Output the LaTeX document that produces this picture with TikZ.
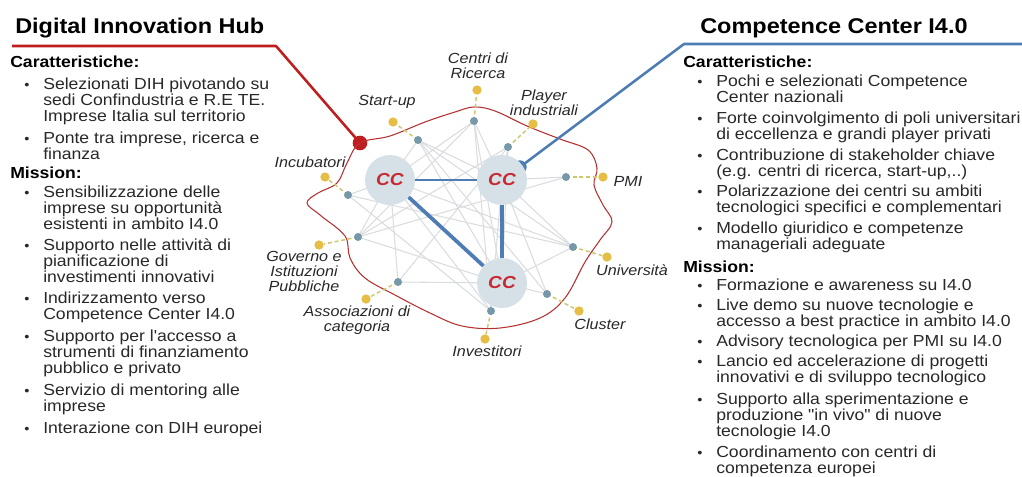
\documentclass[tikz,border=0pt]{standalone}
\usepackage{fontspec}
\setmainfont{Liberation Sans}[FakeStretch=1.1, Ligatures=TeXOff]
\definecolor{redline}{RGB}{192,30,30}
\definecolor{blueline}{RGB}{78,124,180}
\definecolor{ccfill}{RGB}{214,224,231}
\definecolor{cctext}{RGB}{200,40,50}
\definecolor{innerc}{RGB}{118,152,168}
\definecolor{outerc}{RGB}{230,190,70}
\definecolor{dashc}{RGB}{205,200,110}
\definecolor{edgec}{RGB}{218,220,223}
\definecolor{blobc}{RGB}{180,50,50}
\definecolor{txt}{RGB}{40,40,40}
\tikzset{
  x=0.75pt, y=-0.75pt,
  tline/.style={anchor=base west, inner sep=0, text=txt, font=\fontsize{12}{12}\selectfont},
  head/.style={anchor=base west, inner sep=0, text=black, font=\fontsize{12}{12}\selectfont\bfseries},
  title/.style={anchor=base west, inner sep=0, text=black, font=\fontsize{16}{16}\selectfont\bfseries},
  bul/.style={anchor=base, inner sep=0, text=txt, font=\fontsize{10}{10}\selectfont},
  lab/.style={inner sep=0, align=center, text=txt, font=\fontsize{11}{11.25}\selectfont\itshape},
  ccnode/.style={circle, fill=ccfill, minimum size=37.5pt, inner sep=0, text=cctext, font=\fontsize{13}{13}\selectfont\bfseries\itshape},
  innode/.style={circle, fill=innerc, minimum size=6pt, inner sep=0},
  outnode/.style={circle, fill=outerc, minimum size=7pt, inner sep=0},
  dashlink/.style={draw=dashc, line width=1.1pt, dash pattern=on 3pt off 2pt},
  gedge/.style={draw=edgec, line width=0.8pt},
  ccedge/.style={draw=blueline, line width=#1},
}
\newcommand\txtline[4]{\node[tline] (#1) at (#2,#3) {#4};}
\newcommand\bulline[4]{\node[tline] (#1) at (#2,#3) {#4};\node[bul] (#1b) at ({#2-16},#3) {•};}
\begin{document}
\begin{tikzpicture}
\useasboundingbox (0,0) rectangle (1022,476);
% ---------- titles and lines
\node[title] (t1) at (15,33) {Digital Innovation Hub};
\node[title] (t2) at (700,33) {Competence Center I4.0};
\coordinate (rc0) at (12,46);
\coordinate (rc1) at (276,46);
\coordinate (bc0) at (1022,44);
\coordinate (bc1) at (684,44);
\node[circle, fill=redline, minimum size=11pt, inner sep=0] (rd) at (360,143) {};
\node[circle, fill=blueline, minimum size=10pt, inner sep=0] (bd) at (520,167) {};
% ---------- blob
\draw[blobc, line width=0.8pt] plot[smooth cycle, tension=0.6] coordinates {
 (360,143) (390,136) (425,122) (455,112) (474,107) (495,111) (527,126) (560,139)
 (588,150) (597,168) (594,185) (603,205) (612,222) (600,240) (585,262) (565,298)
 (540,318) (500,328) (462,326) (430,313) (395,295) (365,278) (350,258) (345,236)
 (320,215) (307,203) (318,193) (337,183) (347,163)};
\draw[redline, line width=1.9pt, line join=round] (rc0) -- (rc1) -- (rd.center);
\draw[blueline, line width=1.9pt, line join=round] (bc0) -- (bc1) -- (bd.center);
% ---------- network nodes
\coordinate (c1) at (390,180);
\coordinate (c2) at (502,180);
\coordinate (c3) at (502,283);
\coordinate (su) at (418,140);
\coordinate (cr) at (474,121);
\coordinate (pi) at (508,147);
\coordinate (pmi) at (566,177);
\coordinate (inc) at (348,195);
\coordinate (gov) at (358,237);
\coordinate (ass) at (398,282);
\coordinate (inv) at (491,311);
\coordinate (clu) at (547,294);
\coordinate (uni) at (573,247);
% gray edges
\foreach \a/\b in {su/c1,su/c2,su/clu,su/uni,cr/c1,cr/c2,cr/c3,cr/gov,cr/inv,pi/c2,pi/c3,pi/ass,
  pmi/c2,pmi/gov,inc/c1,inc/uni,inc/inv,gov/c1,gov/c3,ass/c1,ass/c3,inv/c1,inv/c2,clu/c2,clu/c3,
  uni/c1,uni/c3,uni/c2,su/c3,pi/gov}
  \draw[gedge] (\a) -- (\b);
\node[ccnode] (cc1) at (c1) {CC};
\node[ccnode] (cc2) at (c2) {CC};
\node[ccnode] (cc3) at (c3) {CC};
\draw[ccedge=2.2pt] (cc1) -- (cc2);
\draw[ccedge=3.6pt] (cc2) -- (cc3);
\draw[ccedge=2.8pt] (cc1) -- (cc3);
\foreach \n/\ox/\oy in {su/393/122, cr/477/90, pi/533/124, pmi/603/177, inc/325/177,
  gov/319/245, ass/366/299, inv/485/339, clu/579/311, uni/607/257}{
  \node[outnode] (\n o) at (\ox,\oy) {};
  \draw[dashlink] (\n) -- (\n o);
  \node[innode] (\n i) at (\n) {};
}
% labels
\node[lab] (lcr) at (478,66) {Centri di\\Ricerca};
\node[lab] (lsu) at (387,102) {Start-up};
\node[lab] (lpi) at (544,103) {Player\\industriali};
\node[lab] (linc) at (310,162) {Incubatori};
\node[lab] (lpmi) at (628,181) {PMI};
\node[lab] (lgov) at (304,271) {Governo e\\Istituzioni\\Pubbliche};
\node[lab] (lass) at (357,320) {Associazioni di\\categoria};
\node[lab] (linv) at (487,351) {Investitori};
\node[lab] (luni) at (632,270) {Università};
\node[lab] (lclu) at (600,324) {Cluster};
% ---------- left text
\node[head] (lh1) at (10,67) {Caratteristiche:};
\bulline{l1}{43}{89}{Selezionati DIH pivotando su}
\txtline{l2}{43}{105}{sedi Confindustria e R.E TE.}
\txtline{l3}{43}{121}{Imprese Italia sul territorio}
\bulline{l4}{43}{143}{Ponte tra imprese, ricerca e}
\txtline{l5}{43}{159}{finanza}
\node[head] (lh2) at (10,178) {Mission:};
\bulline{l6}{43}{197}{Sensibilizzazione delle}
\txtline{l7}{43}{213}{imprese su opportunità}
\txtline{l8}{43}{229}{esistenti in ambito I4.0}
\bulline{l9}{43}{250}{Supporto nelle attività di}
\txtline{l10}{43}{266}{pianificazione di}
\txtline{l11}{43}{282}{investimenti innovativi}
\bulline{l12}{43}{303}{Indirizzamento verso}
\txtline{l13}{43}{319}{Competence Center I4.0}
\bulline{l14}{43}{341}{Supporto per l'accesso a}
\txtline{l15}{43}{357}{strumenti di finanziamento}
\txtline{l16}{43}{373}{pubblico e privato}
\bulline{l17}{43}{395}{Servizio di mentoring alle}
\txtline{l18}{43}{411}{imprese}
\bulline{l19}{43}{433}{Interazione con DIH europei}
% ---------- right text
\node[head] (rh1) at (683,67) {Caratteristiche:};
\bulline{r1}{716}{86}{Pochi e selezionati Competence}
\txtline{r2}{716}{102}{Center nazionali}
\bulline{r3}{716}{123}{Forte coinvolgimento di poli universitari}
\txtline{r4}{716}{139}{di eccellenza e grandi player privati}
\bulline{r5}{716}{160}{Contribuzione di stakeholder chiave}
\txtline{r6}{716}{176}{(e.g. centri di ricerca, start-up,..)}
\bulline{r7}{716}{196}{Polarizzazione dei centri su ambiti}
\txtline{r8}{716}{212}{tecnologici specifici e complementari}
\bulline{r9}{716}{233}{Modello giuridico e competenze}
\txtline{r10}{716}{249}{manageriali adeguate}
\node[head] (rh2) at (683,272) {Mission:};
\bulline{r11}{716}{290}{Formazione e awareness su I4.0}
\bulline{r12}{716}{310}{Live demo su nuove tecnologie e}
\txtline{r13}{716}{326}{accesso a best practice in ambito I4.0}
\bulline{r14}{716}{346}{Advisory tecnologica per PMI su I4.0}
\bulline{r15}{716}{366}{Lancio ed accelerazione di progetti}
\txtline{r16}{716}{382}{innovativi e di sviluppo tecnologico}
\bulline{r17}{716}{404}{Supporto alla sperimentazione e}
\txtline{r18}{716}{420}{produzione "in vivo" di nuove}
\txtline{r19}{716}{436}{tecnologie I4.0}
\bulline{r20}{716}{457}{Coordinamento con centri di}
\txtline{r21}{716}{473}{competenza europei}
\end{tikzpicture}
\end{document}
